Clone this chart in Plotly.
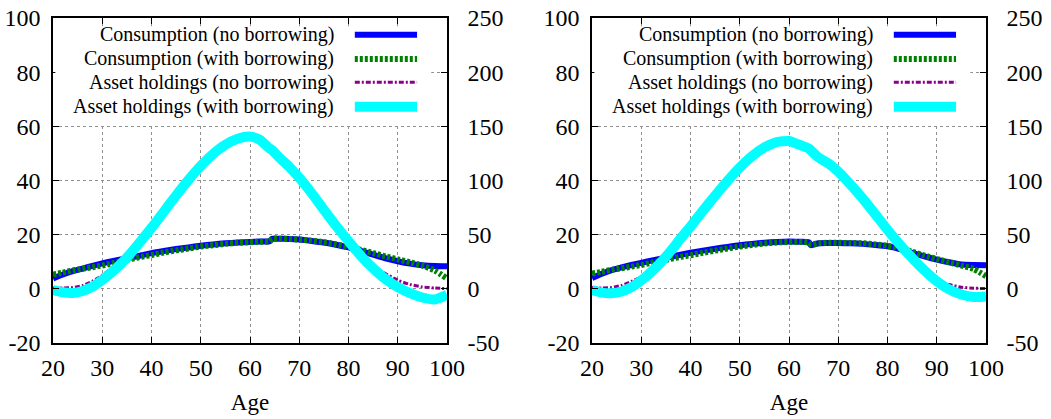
import plotly.graph_objects as go

# ---------------- data ----------------
ages = [20, 22, 24, 26, 28, 30, 32, 34, 36, 38, 40, 42.5, 45, 47.5, 50, 52.5, 55, 57.5,
        60, 62, 64, 64.5, 66, 68, 70, 72.5, 75, 77.5, 80, 82.5, 85, 87.5, 90, 92.5, 95, 97.5, 100]

# left panel (consumption on left axis, assets on right axis)
cons_nb_L = [3.8, 5.3, 6.5, 7.5, 8.5, 9.4, 10.2, 10.9, 11.6, 12.4, 13.2, 14.0, 14.7, 15.3, 15.9, 16.4, 16.8, 17.1,
             17.3, 17.5, 17.6, 18.5, 18.5, 18.4, 18.2, 17.7, 17.1, 16.3, 15.3, 14.0, 12.6, 11.3, 10.2, 9.3, 8.7, 8.4, 8.3]
cons_wb_L = [5.3, 6.0, 6.8, 7.4, 8.0, 8.6, 9.4, 10.3, 11.1, 11.8, 12.5, 13.4, 14.2, 14.9, 15.6, 16.1, 16.6, 17.0,
             17.2, 17.4, 17.5, 18.4, 18.5, 18.4, 18.2, 17.8, 17.2, 16.4, 15.5, 14.4, 13.2, 12.0, 10.9, 9.8, 8.6, 6.8, 3.8]
asset_nb_L = [0.8, 0.8, 1.2, 3.0, 7.0, 12.5, 19.5, 27.0, 33.5, 44.5, 55.7, 70.7, 85.7, 100.0, 113.0, 124.0, 132.5, 138.0,
              140.0, 137.0, 129.0, 127.5, 120.5, 112.0, 102.0, 88.0, 72.5, 57.5, 43.5, 30.5, 20.5, 14.0, 8.0, 4.0, 1.8, 0.8, 0.2]
asset_wb_L = [-1.2, -3.2, -3.8, -2.0, 2.0, 8.2, 15.5, 24.0, 34.0, 45.0, 56.2, 71.2, 86.2, 100.5, 113.5, 124.5, 133.0, 138.5,
              140.5, 137.5, 129.5, 128.0, 121.0, 112.5, 102.5, 88.5, 73.0, 58.0, 44.0, 30.5, 19.0, 9.0, 1.5, -4.0, -8.0, -9.8, -5.5]

# right panel
cons_nb_R = [4.0, 5.6, 6.9, 7.9, 8.8, 9.6, 10.4, 11.1, 11.8, 12.6, 13.3, 14.1, 14.8, 15.5, 16.1, 16.6, 17.0, 17.3,
             17.5, 17.4, 17.2, 16.1, 16.8, 16.9, 16.9, 16.8, 16.6, 16.2, 15.7, 14.7, 13.3, 12.0, 10.8, 9.8, 9.0, 8.8, 8.7]
cons_wb_R = [5.6, 6.3, 7.0, 7.6, 8.2, 8.8, 9.6, 10.4, 11.1, 11.8, 12.4, 13.3, 14.1, 14.9, 15.6, 16.2, 16.7, 17.1,
             17.3, 17.3, 17.1, 16.4, 16.8, 17.0, 17.0, 16.9, 16.8, 16.4, 15.9, 15.0, 13.7, 12.3, 11.0, 9.8, 8.6, 7.3, 4.7]
asset_nb_R = [1.2, 0.8, 1.2, 3.2, 6.8, 11.2, 18.2, 26.5, 34.5, 46.0, 57.0, 71.5, 85.5, 99.0, 111.5, 122.0, 130.0, 135.0,
              136.0, 132.8, 129.0, 127.0, 120.8, 115.2, 107.8, 95.8, 82.8, 68.5, 54.0, 40.5, 28.0, 17.0, 8.5, 4.0, 1.5, 0.6, 0.2]
asset_wb_R = [-1.2, -3.5, -4.0, -2.5, 1.5, 7.8, 15.5, 24.5, 35.0, 46.5, 57.5, 72.0, 86.0, 99.5, 112.0, 122.5, 130.5, 135.5,
              136.5, 133.2, 129.5, 127.5, 121.2, 115.8, 108.2, 96.2, 83.2, 69.0, 54.5, 41.0, 28.5, 17.0, 7.0, -0.5, -5.2, -7.5, -7.0]

series_names = ["Consumption (no borrowing)", "Consumption (with borrowing)",
                "Asset holdings (no borrowing)", "Asset holdings (with borrowing)"]

x_ticks = [20, 30, 40, 50, 60, 70, 80, 90, 100]
y_ticks = [-20, 0, 20, 40, 60, 80, 100]
y_ticktext = ["-20", "0", "20", "40", "60", "80", "100"]
y2_ticks = [-50, 0, 50, 100, 150, 200, 250]
y2_ticktext = ["-50", "0", "50", "100", "150", "200", "250"]

# ---------------- styles ----------------
FONT = "Liberation Serif"
styles = [
    dict(color="#0000ff", width=6, dash="solid"),
    dict(color="#008000", width=6, dash="3px,2px"),
    dict(color="#8b008b", width=3, dash="5px,2px,2px,2px"),
    dict(color="#00ffff", width=10, dash="solid"),
]

fig = go.Figure()

panels = [
    dict(xa="x", ya="y", ya2="y2", data=[cons_nb_L, cons_wb_L, asset_nb_L, asset_wb_L]),
    dict(xa="x2", ya="y3", ya2="y4", data=[cons_nb_R, cons_wb_R, asset_nb_R, asset_wb_R]),
]

for p in panels:
    for i, (vals, st) in enumerate(zip(p["data"], styles)):
        fig.add_trace(go.Scatter(
            x=ages, y=vals, mode="lines", name=series_names[i], showlegend=False,
            line=dict(color=st["color"], width=st["width"], dash=st["dash"], shape="spline", smoothing=0.6),
            xaxis=p["xa"], yaxis=(p["ya"] if i < 2 else p["ya2"]), hoverinfo="skip",
        ))

TICK_SIZE = 24
axis_common = dict(showline=True, linecolor="black", linewidth=1.5, ticks="inside", ticklen=6,
                   tickcolor="black", automargin=False,
                   tickfont=dict(family=FONT, size=TICK_SIZE, color="black"))
grid = dict(showgrid=True, gridcolor="#909090", griddash="dot", gridwidth=1, zeroline=False)

xdom = [[53 / 1051, 447 / 1051], [592 / 1051, 986 / 1051]]
ydom = [(419 - 343) / 419, (419 - 18) / 419]

layout = dict(
    width=1051, height=419, margin=dict(l=0, r=0, t=0, b=0, autoexpand=False),
    paper_bgcolor="white", plot_bgcolor="white",
    font=dict(family=FONT, color="black"),
    showlegend=False,
)
for k, (xn, yn, y2n, xd) in enumerate([("xaxis", "yaxis", "yaxis2", xdom[0]), ("xaxis2", "yaxis3", "yaxis4", xdom[1])]):
    yref = "y" if k == 0 else "y3"
    xref = "x" if k == 0 else "x2"
    layout[xn] = dict(domain=xd, range=[20, 100], tickvals=x_ticks, mirror="ticks", anchor=yref,
                      ticklabelstandoff=2,
                      title=dict(text="Age", font=dict(family=FONT, size=23), standoff=14),
                      **axis_common, **grid)
    layout[yn] = dict(domain=ydom, range=[-20, 100], tickvals=y_ticks, ticktext=y_ticktext, anchor=xref,
                      ticklabelstandoff=6, **axis_common, **grid)
    layout[y2n] = dict(range=[-50, 250], tickvals=y2_ticks, ticktext=y2_ticktext, overlaying=yref,
                       side="right", anchor=xref,
                       showgrid=False, zeroline=False, ticklabelstandoff=14, **axis_common)

fig.update_layout(**layout)

# ---------------- key (gnuplot style: text right, sample line to its right) ----------------
row_y = [0.9486, 0.874, 0.802, 0.727]
for k, (xr, yr) in enumerate([("x domain", "y domain"), ("x2 domain", "y3 domain")]):
    fig.add_shape(type="rect", xref=xr, yref=yr, x0=0.006, x1=0.96, y0=0.675, y1=0.975,
                  fillcolor="white", line=dict(width=0), layer="above")
    for i, st in enumerate(styles):
        fig.add_annotation(xref=xr, yref=yr, x=0.718, y=row_y[i], text=series_names[i],
                           showarrow=False, xanchor="right", yanchor="middle",
                           font=dict(family=FONT, size=20, color="black"))
        fig.add_shape(type="line", xref=xr, yref=yr, x0=0.766, x1=0.924, y0=row_y[i], y1=row_y[i],
                      line=dict(color=st["color"], width=st["width"], dash=st["dash"]), layer="above")

fig.write_html("out.html", config={"displayModeBar": False},
               post_script="document.body.style.margin='0px';")
